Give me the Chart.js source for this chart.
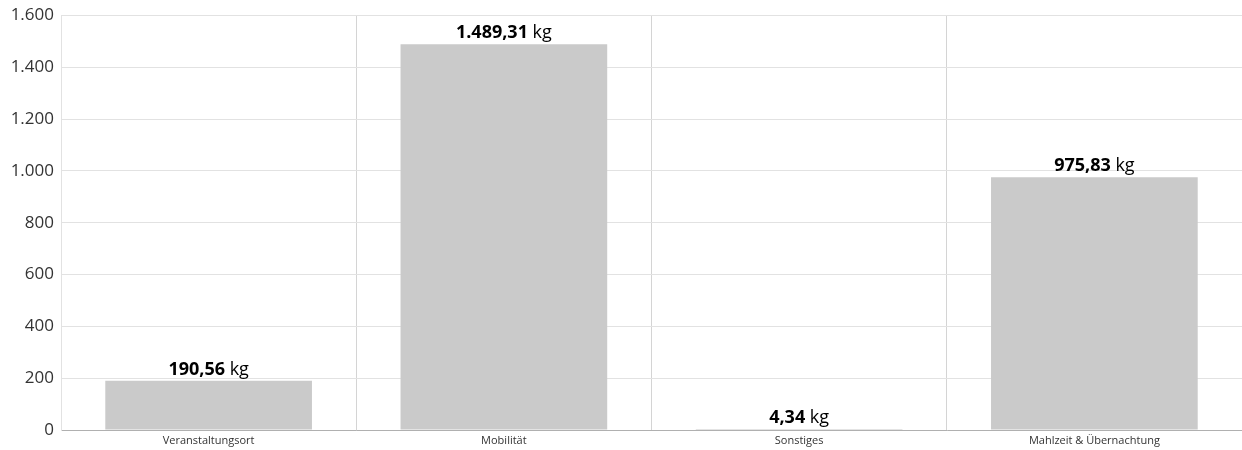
<!DOCTYPE html>
<html>
<head>
<meta charset="utf-8">
<script src="https://cdn.jsdelivr.net/npm/chart.js@4"></script>
<style>
  body { margin: 0; background: #fff; }
  canvas { display: block; }
</style>
</head>
<body>
<canvas id="co2Chart" width="1242" height="450"></canvas>
<script>
const categories = ['Veranstaltungsort', 'Mobilität', 'Sonstiges', 'Mahlzeit & Übernachtung'];
const emissions = [190.56, 1489.31, 4.34, 975.83];
const unit = 'kg';

const fmt = (v, d) => v.toLocaleString('de-DE', { minimumFractionDigits: d, maximumFractionDigits: d });

// Werte über den Balken: Zahl fett, Einheit normal
const valueLabels = {
    id: 'valueLabels',
    afterDatasetsDraw(chart) {
        const { ctx } = chart;
        const meta = chart.getDatasetMeta(0);
        ctx.save();
        ctx.textBaseline = 'alphabetic';
        ctx.fillStyle = '#000';
        meta.data.forEach((bar, i) => {
            const num = fmt(emissions[i], 2);
            const tail = ' ' + unit;
            ctx.font = 'bold 18px "Open Sans"';
            const wNum = ctx.measureText(num).width;
            ctx.font = '18px "Open Sans"';
            const wTail = ctx.measureText(tail).width;
            const x0 = bar.x - (wNum + wTail) / 2;
            const y = bar.y - 6;
            ctx.font = 'bold 18px "Open Sans"';
            ctx.textAlign = 'left';
            ctx.fillText(num, x0, y);
            ctx.font = '18px "Open Sans"';
            ctx.fillText(tail, x0 + wNum, y);
        });
        ctx.restore();
    }
};

new Chart(document.getElementById('co2Chart'), {
    type: 'bar',
    data: {
        labels: categories,
        datasets: [{
            data: emissions,
            backgroundColor: '#cacaca',
            barPercentage: 0.7,
            categoryPercentage: 1.0
        }]
    },
    options: {
        responsive: false,
        animation: false,
        layout: { padding: 0 },
        plugins: {
            legend: { display: false },
            tooltip: { enabled: false }
        },
        scales: {
            x: {
                grid: {
                    offset: true,
                    drawTicks: false,
                    color: ctx => ctx.type === 'tick' ? '#d4d4d4' : 'rgba(0,0,0,0)'
                },
                border: { color: '#b0b0b0' },
                afterFit: scale => { scale.height = 20; },
                ticks: {
                    padding: 4,
                    color: '#333',
                    font: { family: '"Open Sans"', size: 11 }
                }
            },
            y: {
                min: 0,
                max: 1600,
                grid: { drawTicks: false, color: '#e2e2e2' },
                border: { color: '#e2e2e2' },
                afterFit: scale => { scale.width = 61; },
                ticks: {
                    stepSize: 200,
                    padding: 7,
                    color: '#333',
                    font: { family: '"Open Sans"', size: 17, lineHeight: 1.0 },
                    callback: v => fmt(v, 0)
                }
            }
        }
    },
    plugins: [valueLabels]
});
</script>
</body>
</html>
